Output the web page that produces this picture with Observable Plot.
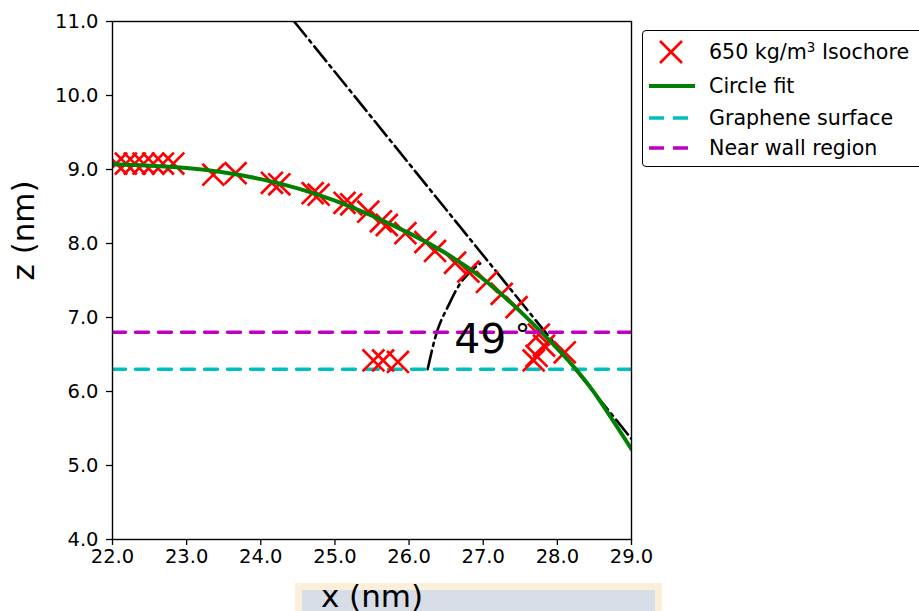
<!DOCTYPE html>
<html>
<head>
<meta charset="utf-8">
<script src="https://cdn.jsdelivr.net/npm/d3@7"></script>
<script src="https://cdn.jsdelivr.net/npm/@observablehq/plot@0.6"></script>
<style>
  html, body { margin: 0; padding: 0; background: white; }
  #wrap { position: relative; width: 919px; height: 611px; overflow: hidden; font-family: "DejaVu Sans", sans-serif; }
  #labelbox { position: absolute; left: 295px; top: 583px; width: 367px; height: 40px; box-sizing: border-box;
              background: #d6dde7; border: 7px solid #fcefd9; z-index: 0; }
  #chart { position: absolute; left: 0; top: 0; z-index: 1; }
  #legend { position: absolute; left: 642px; top: 30px; width: 300px; height: 137px; box-sizing: border-box;
            border: 1.5px solid black; border-radius: 4px; background: white; z-index: 2; }
  .row { position: absolute; left: 0; height: 30px; width: 100%; }
  .row svg { position: absolute; left: 4px; top: 0; }
  .row span { position: absolute; left: 66px; top: 3px; font-size: 20.6px; line-height: 24px; color: black; white-space: nowrap; }
  sup { font-size: 13.5px; line-height: 0; vertical-align: 7px; }
</style>
</head>
<body>
<div id="wrap">
  <div id="labelbox"></div>
  <div id="chart"></div>
  <div id="legend"></div>
</div>
<script>
// ---- data ----
const isoX = [22.05, 22.18, 22.3, 22.42, 22.55, 22.68, 22.82,
              23.36, 23.66, 24.15, 24.25, 24.7, 24.78, 25.13, 25.22, 25.45, 25.62, 25.7,
              25.95, 26.22, 26.35, 26.62, 26.8, 27.05, 27.25, 27.45,
              27.75, 27.82, 27.72, 27.68, 28.1, 25.52, 25.65, 25.85];
const isoZ = [9.08, 9.08, 9.08, 9.08, 9.08, 9.08, 9.08,
              8.93, 8.95, 8.82, 8.8, 8.68, 8.66, 8.55, 8.53, 8.43, 8.3, 8.25,
              8.14, 8.02, 7.9, 7.74, 7.62, 7.48, 7.32, 7.14,
              6.77, 6.62, 6.48, 6.42, 6.53, 6.42, 6.42, 6.4];

const fitX = [22.0, 23.0, 24.0, 25.0, 26.0, 27.0, 28.0, 28.5, 29.0];
const fitZ = [9.07, 9.02, 8.87, 8.58, 8.14, 7.52, 6.58, 5.98, 5.22];

const tangentX = [24.45, 29.0];
const tangentZ = [11.0, 5.36];

const arcX = [26.25, 26.38, 26.52, 26.69, 26.87, 26.96];
const arcZ = [6.30, 6.82, 7.14, 7.46, 7.66, 7.73];

const grapheneZ = 6.3;
const nearWallZ = 6.8;
const xLimits = [22, 29];
const zLimits = [4, 11];

const xTicks = [22, 23, 24, 25, 26, 27, 28, 29];
const zTicks = [4, 5, 6, 7, 8, 9, 10, 11];

const angleText = ["49"];
const angleAt = [26.96, 6.70];
const degreeAt = [27.53, 6.76];

const legendLabels = ["650 kg/m<sup>3</sup> Isochore", "Circle fit", "Graphene surface", "Near wall region"];

// ---- build tables ----
const iso = isoX.map((x, i) => ({x, z: isoZ[i]}));
const fit = fitX.map((x, i) => ({x, z: fitZ[i]}));
const tangent = tangentX.map((x, i) => ({x, z: tangentZ[i]}));
const arc = arcX.map((x, i) => ({x, z: arcZ[i]}));
const hlineGraphene = xLimits.map(x => ({x, z: grapheneZ}));
const hlineWall = xLimits.map(x => ({x, z: nearWallZ}));

const dashDot = "19,5,3,5";
const dashed = "13,10";

const chart = Plot.plot({
  width: 919,
  height: 611,
  marginLeft: 112,
  marginRight: 288,
  marginTop: 21,
  marginBottom: 72,
  x: {domain: xLimits},
  y: {domain: zLimits},
  style: {fontFamily: "DejaVu Sans", fontSize: "19.5px", background: "transparent", color: "black", overflow: "visible"},
  marks: [
    Plot.line(tangent, {x: "x", y: "z", stroke: "black", strokeWidth: 2.6, strokeDasharray: dashDot, clip: true}),
    Plot.line(arc, {x: "x", y: "z", stroke: "black", strokeWidth: 2.6, strokeDasharray: dashDot, curve: "natural", clip: true}),
    Plot.line(hlineGraphene, {x: "x", y: "z", stroke: "#00bfbf", strokeWidth: 3.5, strokeDasharray: dashed, clip: true}),
    Plot.dot(iso, {x: "x", y: "z", symbol: "times", r: 10, stroke: "red", strokeWidth: 2.7, fill: "none", clip: true}),
    Plot.line(fit, {x: "x", y: "z", stroke: "#008000", strokeWidth: 4, curve: "natural", clip: true}),
    Plot.line(hlineWall, {x: "x", y: "z", stroke: "#bf00bf", strokeWidth: 3.5, strokeDasharray: dashed, clip: true}),
    Plot.text(angleText, {x: () => angleAt[0], y: () => angleAt[1], text: d => d, fontSize: 41, textAnchor: "middle", lineAnchor: "middle", fill: "black"}),
    Plot.text(["°"], {x: () => degreeAt[0], y: () => degreeAt[1], text: d => d, fontSize: 30, textAnchor: "middle", lineAnchor: "middle", fill: "black"}),
    Plot.frame({stroke: "black", strokeWidth: 1.4}),
    Plot.axisX({ticks: xTicks, tickFormat: d => d.toFixed(1), tickSize: 6, tickPadding: 4, label: null, strokeWidth: 1.3}),
    Plot.axisY({ticks: zTicks, tickFormat: d => d.toFixed(1), tickSize: 6, tickPadding: 8, label: null, strokeWidth: 1.3}),
    Plot.text(["x (nm)"], {frameAnchor: "bottom", dy: 58, fontSize: 31, text: d => d, lineAnchor: "middle", fill: "black"}),
    Plot.text(["z (nm)"], {frameAnchor: "left", dx: -88, rotate: -90, fontSize: 31, text: d => d, lineAnchor: "middle", fill: "black"})
  ]
});
document.getElementById("chart").appendChild(chart);

// ---- legend ----
const swatches = [
  `<svg width="50" height="30"><path d="M13,4 L35,26 M35,4 L13,26" stroke="red" stroke-width="2.7" fill="none"/></svg>`,
  `<svg width="50" height="30"><line x1="2" y1="15" x2="48" y2="15" stroke="#008000" stroke-width="4"/></svg>`,
  `<svg width="50" height="30"><line x1="2" y1="15" x2="48" y2="15" stroke="#00bfbf" stroke-width="3.5" stroke-dasharray="15,9"/></svg>`,
  `<svg width="50" height="30"><line x1="2" y1="15" x2="48" y2="15" stroke="#bf00bf" stroke-width="3.5" stroke-dasharray="15,9"/></svg>`
];
const rowTops = [6, 40, 72, 102];
const legend = document.getElementById("legend");
legendLabels.forEach((lab, i) => {
  const row = document.createElement("div");
  row.className = "row";
  row.style.top = rowTops[i] + "px";
  row.innerHTML = swatches[i] + `<span>${lab}</span>`;
  legend.appendChild(row);
});
</script>
</body>
</html>
